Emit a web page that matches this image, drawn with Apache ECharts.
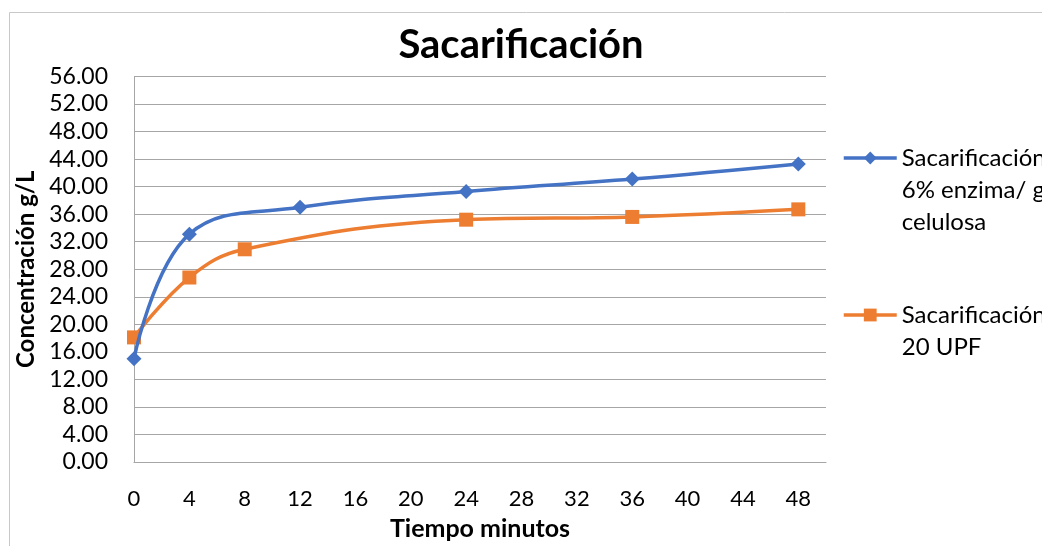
<!DOCTYPE html>
<html>
<head>
<meta charset="utf-8">
<title>Sacarificación</title>
<script src="https://cdn.jsdelivr.net/npm/echarts@6/dist/echarts.min.js"></script>
<style>
  html, body { margin: 0; padding: 0; background: #ffffff; }
  #chart { width: 1042px; height: 546px; }
</style>
</head>
<body>
<div id="chart"></div>
<script>
// Time (minutes) and glucose concentration (g/L) for each saccharification run
const tiempoEnzima = [0, 4, 12, 24, 36, 48];
const concEnzima = [15.0, 33.1, 37.0, 39.3, 41.1, 43.3];
const tiempoUPF = [0, 4, 8, 24, 36, 48];
const concUPF = [18.1, 26.8, 30.9, 35.2, 35.6, 36.7];

const nombreEnzima = 'Sacarificación 6% enzima/ g celulosa';
const nombreUPF = 'Sacarificación 20 UPF';
const lineasEnzima = ['Sacarificación', '6% enzima/ g', 'celulosa'];
const lineasUPF = ['Sacarificación', '20 UPF'];

const FONT = 'Lato, "Open Sans", sans-serif';
const AZUL = '#4472C4';
const NARANJA = '#ED7D31';

const pares = (xs, ys) => xs.map((x, i) => [x, ys[i]]);

const chart = echarts.init(document.getElementById('chart'), null, { renderer: 'canvas' });

// Shared look of the two legend blocks (one per series, icon beside the first text line)
const legendBase = {
  left: 842,
  padding: 0,
  itemWidth: 53,
  itemHeight: 16,
  lineStyle: { width: 3.5 },
  textStyle: { fontFamily: FONT, fontSize: 24, color: '#000', lineHeight: 32 }
};

chart.setOption({
  backgroundColor: '#ffffff',
  animation: false,
  textStyle: { fontFamily: FONT, color: '#000' },
  title: {
    text: 'Sacarificación',
    left: 'center',
    top: 20,
    textStyle: { fontFamily: FONT, fontSize: 40, fontWeight: 'bold', color: '#000' }
  },
  graphic: [{
    type: 'rect',
    shape: { x: 9.5, y: 12.5, width: 1100, height: 600 },
    style: { fill: 'none', stroke: '#c8c8c8', lineWidth: 1 },
    silent: true,
    z: -1
  }],
  legend: [
    Object.assign({}, legendBase, {
      data: [nombreEnzima],
      top: 78,
      formatter: () => '\n\n' + lineasEnzima.join('\n')
    }),
    Object.assign({}, legendBase, {
      data: [nombreUPF],
      top: 267,
      formatter: () => '\n' + lineasUPF.join('\n')
    })
  ],
  grid: { left: 134, right: 216, top: 76.5, bottom: 79, containLabel: false },
  xAxis: {
    type: 'value',
    min: 0,
    max: 50,
    interval: 4,
    name: 'Tiempo minutos',
    nameLocation: 'middle',
    nameGap: 54,
    nameTextStyle: { fontFamily: FONT, fontSize: 25, fontWeight: 'bold', color: '#000' },
    axisLine: { show: true, lineStyle: { color: '#a6a6a6', width: 1 } },
    axisTick: { show: false },
    splitLine: { show: false },
    axisLabel: {
      margin: 26,
      fontFamily: FONT,
      fontSize: 22,
      color: '#000',
      formatter: v => (v > 48 ? '' : String(v))
    }
  },
  yAxis: {
    type: 'value',
    min: 0,
    max: 56,
    interval: 4,
    name: 'Concentración g/L',
    nameLocation: 'middle',
    nameGap: 90,
    nameTextStyle: { fontFamily: FONT, fontSize: 24, fontWeight: 'bold', color: '#000' },
    axisLine: { show: true, lineStyle: { color: '#a6a6a6', width: 1 } },
    axisTick: { show: false },
    splitLine: { show: true, lineStyle: { color: '#a6a6a6', width: 1 } },
    axisLabel: {
      margin: 26,
      fontFamily: FONT,
      fontSize: 23,
      color: '#000',
      formatter: v => v.toFixed(2)
    }
  },
  series: [
    {
      name: nombreEnzima,
      type: 'line',
      data: pares(tiempoEnzima, concEnzima),
      smooth: 0.4,
      symbol: 'diamond',
      symbolSize: 15,
      lineStyle: { color: AZUL, width: 3.5 },
      itemStyle: { color: AZUL },
      z: 3
    },
    {
      name: nombreUPF,
      type: 'line',
      data: pares(tiempoUPF, concUPF),
      smooth: 0.4,
      symbol: 'rect',
      symbolSize: 14,
      lineStyle: { color: NARANJA, width: 3.5 },
      itemStyle: { color: NARANJA },
      z: 2
    }
  ]
});
</script>
</body>
</html>
